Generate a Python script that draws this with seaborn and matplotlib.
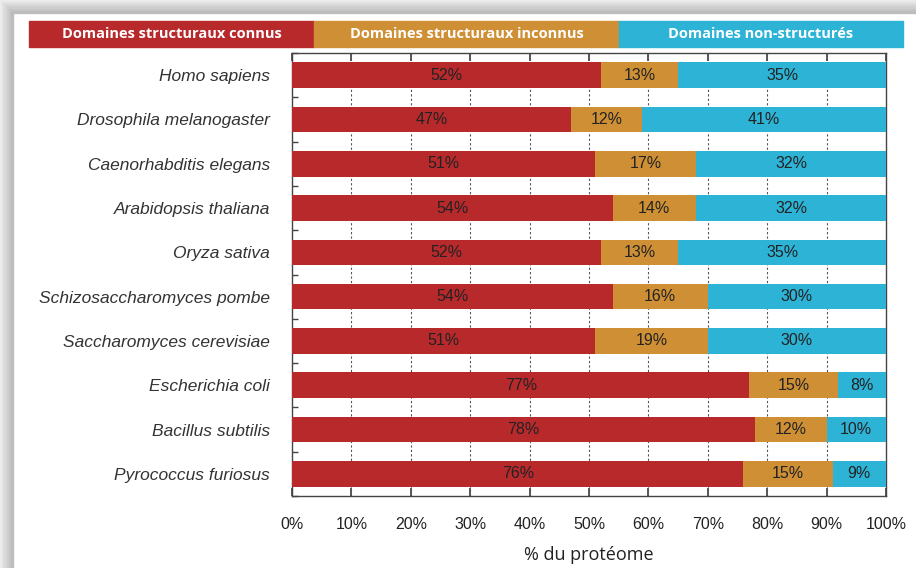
import matplotlib
matplotlib.use("Agg")
import matplotlib.pyplot as plt
from matplotlib.patches import Rectangle
import numpy as np
import pandas as pd
import seaborn as sns

species = ["Homo sapiens", "Drosophila melanogaster", "Caenorhabditis elegans",
           "Arabidopsis thaliana", "Oryza sativa", "Schizosaccharomyces pombe",
           "Saccharomyces cerevisiae", "Escherichia coli", "Bacillus subtilis",
           "Pyrococcus furiosus"]
connus = [52, 47, 51, 54, 52, 54, 51, 77, 78, 76]
inconnus = [13, 12, 17, 14, 13, 16, 19, 15, 12, 15]
non_struct = [35, 41, 32, 32, 35, 30, 30, 8, 10, 9]
series_names = ["Domaines structuraux connus", "Domaines structuraux inconnus",
                "Domaines non-structurés"]
xticks = [0, 10, 20, 30, 40, 50, 60, 70, 80, 90, 100]
xlabel = "% du protéome"

colors = ["#B8292C", "#CF9035", "#2DB3D6"]

sns.set_theme(style="white")
plt.rcParams["font.family"] = ["Liberation Sans", "DejaVu Sans"]

W, H = 916, 568
fig = plt.figure(figsize=(W / 100, H / 100), dpi=100)

# shadow frame (top and left)
shades = ["#ececec", "#e3e3e3", "#d9d9d9", "#cfcfcf", "#c6c6c6", "#bdbdbd"]
band = 13
step = band / len(shades)
for i, c in enumerate(shades):
    x0 = i * step
    fig.patches.append(Rectangle((x0 / W, 0), step / W, 1 - x0 / H, transform=fig.transFigure,
                                 color=c, zorder=0))
    fig.patches.append(Rectangle((x0 / W, 1 - (x0 + step) / H), 1 - x0 / W, step / H,
                                 transform=fig.transFigure, color=c, zorder=0))

df = pd.DataFrame({"species": species, "c1": connus, "c2": inconnus, "c3": non_struct})
df["cum1"] = df["c1"]
df["cum2"] = df["c1"] + df["c2"]
df["cum3"] = df["c1"] + df["c2"] + df["c3"]

ax = fig.add_axes([292 / W, 1 - 496 / H, (886 - 292) / W, (496 - 53) / H])
for col, c in zip(["cum3", "cum2", "cum1"], colors[::-1]):
    sns.barplot(data=df, x=col, y="species", order=species, color=c, ax=ax,
                width=0.58, orient="h", saturation=1, edgecolor="none", zorder=3)

narrow = ["Liberation Sans Narrow", "Liberation Sans", "DejaVu Sans"]
for i in range(len(species)):
    starts = [0, connus[i], connus[i] + inconnus[i]]
    vals = [connus[i], inconnus[i], non_struct[i]]
    for s, v in zip(starts, vals):
        ax.text(s + v / 2, i, f"{v}%", ha="center", va="center", fontsize=11.5,
                family=narrow, color="#222222", zorder=5)

ax.set_xlim(0, 100)
ax.set_ylim(9.5, -0.5)
ax.set_xticks(xticks)
ax.set_xticklabels([f"{t}%" for t in xticks], family=narrow, fontsize=11.5, color="#222222")
ax.set_xlabel(xlabel, fontsize=13, family=["Open Sans", "DejaVu Sans"], color="#222222", labelpad=10)
ax.set_ylabel("")
ax.set_yticks(range(len(species)))
ax.set_yticklabels(species, style="italic", fontsize=12.5, color="#333333")
ax.set_yticks(np.arange(-0.5, 10, 1), minor=True)
ax.tick_params(axis="y", which="major", length=0, pad=16)
ax.tick_params(axis="y", which="minor", direction="in", length=4, color="#444444", left=True)
ax.tick_params(axis="x", which="major", direction="in", length=6, color="#444444",
               top=True, bottom=True, pad=15)
for x in xticks[1:-1]:
    ax.axvline(x, color="#555555", lw=0.8, ls=(0, (2, 2)), zorder=1)
for sp in ax.spines.values():
    sp.set_visible(True)
    sp.set_color("#444444")
    sp.set_linewidth(1.0)

# top legend bands
legend_edges = [29, 314, 619, 903]
for k, (name, c) in enumerate(zip(series_names, colors)):
    x0, x1 = legend_edges[k], legend_edges[k + 1]
    fig.patches.append(Rectangle((x0 / W, 1 - 47 / H), (x1 - x0) / W, 26 / H,
                                 transform=fig.transFigure, color=c, zorder=2))
    fig.text((x0 + x1) / 2 / W, 1 - 34 / H, name, ha="center", va="center", color="white",
             fontsize=10.5, fontweight="bold", family=["Open Sans", "DejaVu Sans"], zorder=3)

fig.savefig("out.png", dpi=100)
